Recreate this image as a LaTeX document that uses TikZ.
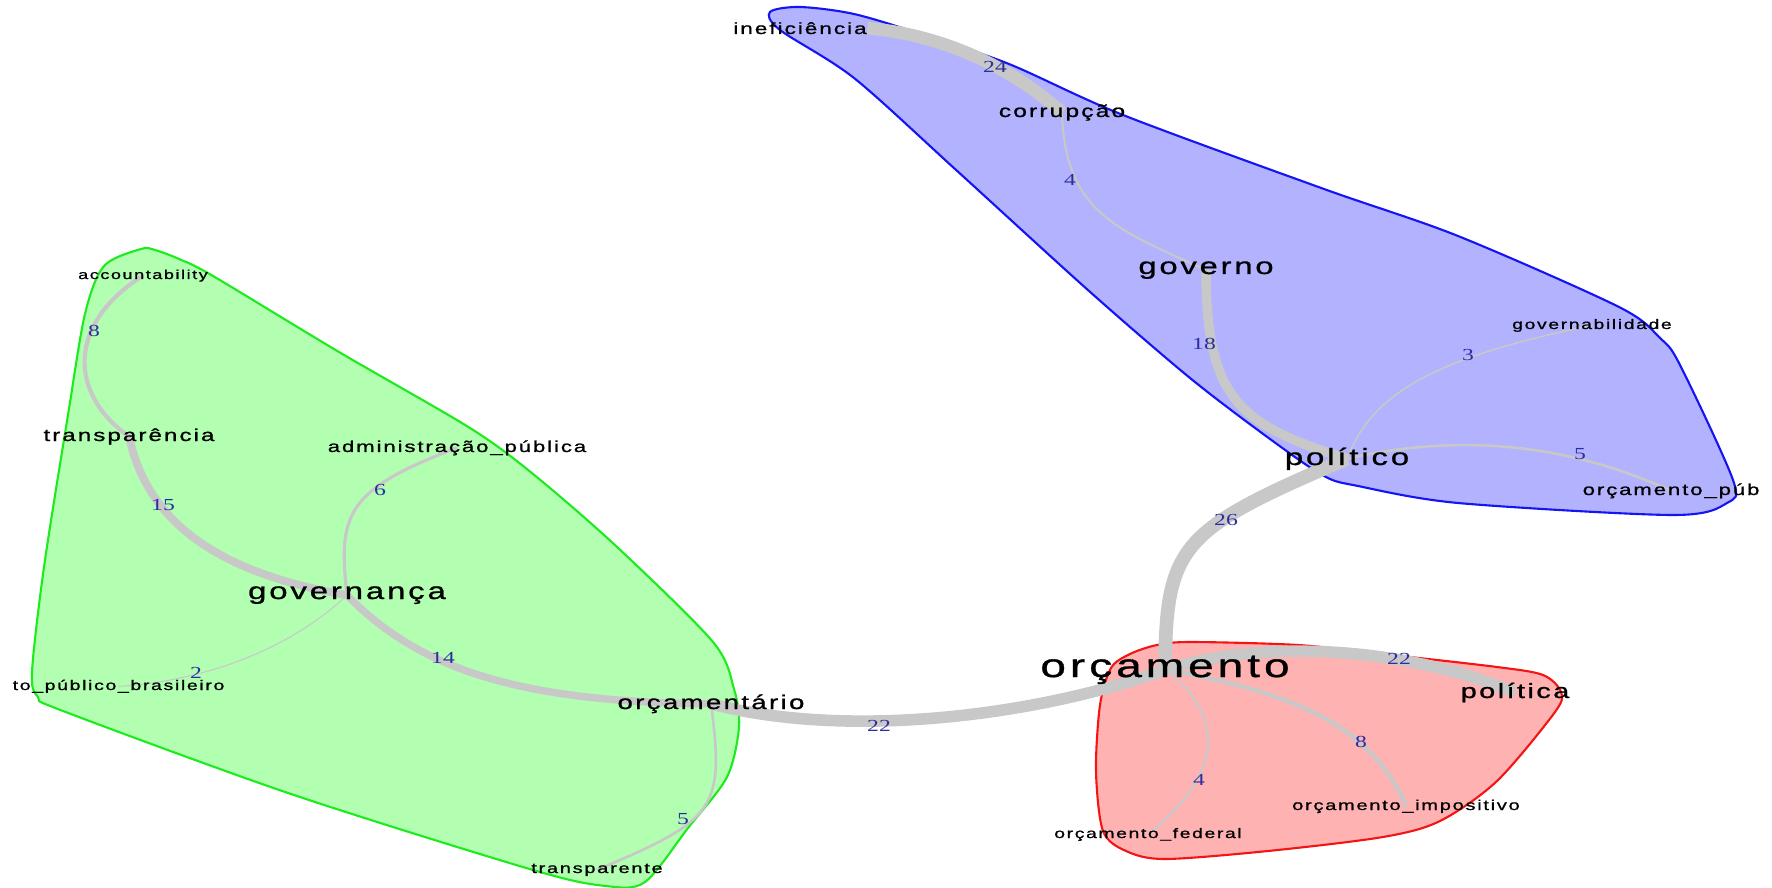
\documentclass[tikz,border=0pt]{standalone}
\usepackage{fontspec}
\setmainfont{Liberation Sans}[FakeStretch=1.4,LetterSpace=12,FakeBold=1]
\newfontfamily\numfont{Liberation Serif}[FakeStretch=1.4]
\usetikzlibrary{backgrounds}
\definecolor{edgegray}{RGB}{200,200,200}
\definecolor{wtblue}{RGB}{45,45,160}
\definecolor{gfill}{RGB}{178,255,178}
\definecolor{gline}{RGB}{30,235,30}
\definecolor{bfill}{RGB}{178,178,255}
\definecolor{bline}{RGB}{20,20,245}
\definecolor{rfill}{RGB}{255,178,178}
\definecolor{rline}{RGB}{245,20,20}
\tikzset{
  lbl/.style={inner sep=0pt, anchor=base, font=\fontsize{#1}{#1}\selectfont},
  wt/.style={inner sep=0pt, text=wtblue, font=\numfont\fontsize{4.8}{4.8}\selectfont},
  edge/.style={draw=edgegray, line width={#1*0.15pt}},
  hull/.style args={#1/#2}{draw=#1, fill=#2, line width=0.6pt}
}
\begin{document}
\begin{tikzpicture}[x=0.01cm,y=-0.01cm]
  \useasboundingbox (0,0) rectangle (1772,888);
  % Define the nodes for the words
  \node[lbl=4.6]  (ineff)        at (800,34)   {ineficiência};
  \node[lbl=5.0]  (corrup)       at (1062,117) {corrupção};
  \node[lbl=6.65] (governo)      at (1206,274) {governo};
  \node[lbl=6.7]  (politico)     at (1347,465) {político};
  \node[lbl=3.92] (governab)     at (1592,329) {governabilidade};
  \node[lbl=4.5,anchor=base west] (orcpub) at (1582,495) {orçamento\_púb};
  \node[lbl=9.36] (orcamento)    at (1165,677) {orçamento};
  \node[lbl=5.85] (politica)     at (1515,698) {política};
  \node[lbl=4.07] (impositivo)   at (1406,810) {orçamento\_impositivo};
  \node[lbl=3.92] (federal)      at (1148,838) {orçamento\_federal};
  \node[lbl=5.6]  (orcamentario) at (711,709)  {orçamentário};
  \node[lbl=4.07] (transparente) at (597,873)  {transparente};
  \node[lbl=6.7]  (governanca)   at (347,599)  {governança};
  \node[lbl=3.95,anchor=base west] (topublico) at (12,690) {to\_público\_brasileiro};
  \node[lbl=4.5]  (admin)        at (457,452)  {administração\_pública};
  \node[lbl=4.9]  (transparencia) at (129,441) {transparência};
  \node[lbl=3.67] (account)      at (143,279)  {accountability};
  \begin{scope}[on background layer]
    % Define the hulls of the groups
    \draw[hull=gline/gfill] plot[smooth cycle,tension=0.5] coordinates {
      (141,249) (104,266) (85,314) (68,415) (44,567) (32,672) (38,697) (63,711)
      (291,794) (533,870) (606,886) (645,882) (688,828) (727,777) (739,727)
      (734,689) (713,642) (616,546) (533,474) (470,428) (339,352) (213,276)
      (179,259) (155,250)};
    \draw[hull=bline/bfill] plot[smooth cycle,tension=0.5] coordinates {
      (770,12) (800,7) (854,14) (921,34) (1009,64) (1123,115) (1324,189)
      (1458,236) (1619,307) (1660,338) (1680,365) (1733,480) (1727,503)
      (1673,515) (1458,503) (1358,486) (1324,476) (1270,439) (1190,378)
      (1089,291) (955,169) (854,78) (780,30)};
    \draw[hull=rline/rfill] plot[smooth cycle,tension=0.5] coordinates {
      (1157,645) (1191,642) (1298,645) (1383,654) (1497,667) (1543,675)
      (1561,692) (1555,712) (1497,781) (1440,821) (1383,837) (1268,851)
      (1165,859) (1126,851) (1103,831) (1096,771) (1100,705) (1111,668)
      (1130,654)};
    % Connect the words
    \draw[edge=24] (ineff.east) .. controls (935,34) and (1005,62) .. (corrup.center);
    \draw[edge=4]  (corrup.center) .. controls (1065,215) and (1120,230) .. (governo.center);
    \draw[edge=18] (governo.center) .. controls (1206,400) and (1240,425) .. (politico.center);
    \draw[edge=3]  (politico.center) .. controls (1370,400) and (1420,360) .. (governab.center);
    \draw[edge=5]  (politico.center) .. controls (1450,435) and (1560,440) .. (orcpub.center);
    \draw[edge=26] (politico.center) .. controls (1180,530) and (1166,545) .. (orcamento.center);
    \draw[edge=22] (orcamento.center) .. controls (1260,640) and (1400,645) .. (politica.center);
    \draw[edge=8]  (orcamento.center) .. controls (1280,690) and (1370,720) .. (impositivo.center);
    \draw[edge=4]  (orcamento.center) .. controls (1215,705) and (1235,765) .. (federal.center);
    \draw[edge=22] (orcamento.center) .. controls (1040,715) and (850,740) .. (orcamentario.center);
    \draw[edge=14] (governanca.center) .. controls (420,670) and (520,702) .. (orcamentario.center);
    \draw[edge=5]  (orcamentario.center) .. controls (725,810) and (715,820) .. (transparente.center);
    \draw[edge=15] (transparencia.center) .. controls (145,510) and (200,570) .. (governanca.center);
    \draw[edge=8]  (account.center) .. controls (65,325) and (70,395) .. (transparencia.center);
    \draw[edge=6]  (governanca.center) .. controls (338,515) and (345,490) .. (admin.center);
    \draw[edge=2]  (governanca.center) .. controls (300,640) and (220,680) .. (topublico.center);
  \end{scope}
  % Weights on the edges
  \node[wt] (w24)  at (995,67)  {24};
  \node[wt] (w4a)  at (1070,180) {4};
  \node[wt] (w18)  at (1204,344) {18};
  \node[wt] (w3)   at (1468,355) {3};
  \node[wt] (w5a)  at (1580,454) {5};
  \node[wt] (w26)  at (1226,520) {26};
  \node[wt] (w22a) at (1399,659) {22};
  \node[wt] (w8a)  at (1361,742) {8};
  \node[wt] (w4b)  at (1199,780) {4};
  \node[wt] (w22b) at (879,726)  {22};
  \node[wt] (w14)  at (443,658)  {14};
  \node[wt] (w5b)  at (683,819)  {5};
  \node[wt] (w15)  at (163,505)  {15};
  \node[wt] (w8b)  at (94,331)   {8};
  \node[wt] (w6)   at (380,490)  {6};
  \node[wt] (w2)   at (196,673)  {2};
\end{tikzpicture}
\end{document}
